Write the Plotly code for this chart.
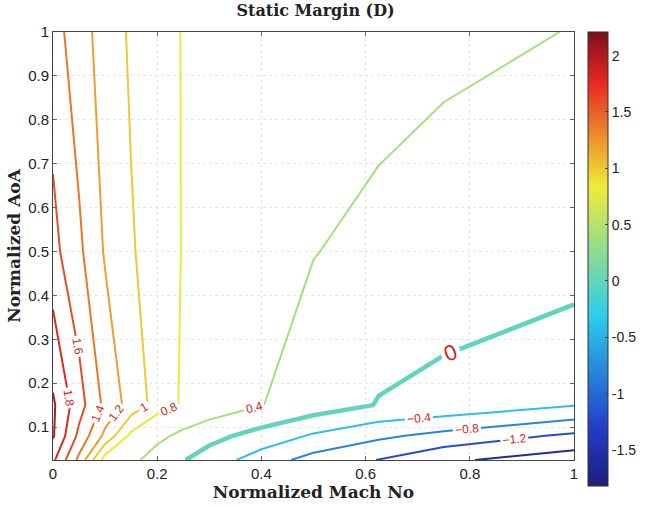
import plotly.graph_objects as go

# Grid (normalized Mach, normalized AoA) and static margin values
MACH = [0, 0.05, 0.1, 0.15, 0.2, 0.25, 0.3, 0.4, 0.5, 0.625, 0.75, 1.0]
AOA = [0.025, 0.08, 0.15, 0.5, 1.0]
SM_AOA_0025 = [1.84, 1.35, 0.70, 0.50, 0.22, 0.02, -0.18, -0.60, -0.95, -1.21, -1.53, -1.82]
SM_AOA_008 = [2.02, 1.55, 1.15, 0.75, 0.50, 0.30, 0.12, -0.15, -0.45, -0.72, -0.92, -1.28]
SM_AOA_015 = [2.03, 1.68, 1.35, 1.12, 0.93, 0.77, 0.65, 0.41, 0.22, -0.02, -0.11, -0.38]
SM_AOA_050 = [1.66, 1.44, 1.18, 1.02, 0.90, 0.79, 0.70, 0.55, 0.41, 0.31, 0.23, 0.20]
SM_AOA_100 = [1.49, 1.28, 1.12, 0.97, 0.88, 0.79, 0.75, 0.68, 0.61, 0.54, 0.48, 0.39]
Z = [SM_AOA_0025, SM_AOA_008, SM_AOA_015, SM_AOA_050, SM_AOA_100]

LEVELS = [-1.6, -1.2, -0.8, -0.4, 0.0, 0.4, 0.8, 1.0, 1.2, 1.4, 1.6, 1.8, 2.0]

CMIN, CMAX = -1.82, 2.21
XTICKS = [0, 0.2, 0.4, 0.6, 0.8, 1.0]
XTICKTEXT = ["0", "0.2", "0.4", "0.6", "0.8", "1"]
YTICKS = [0.1, 0.2, 0.3, 0.4, 0.5, 0.6, 0.7, 0.8, 0.9, 1.0]
YTICKTEXT = ["0.1", "0.2", "0.3", "0.4", "0.5", "0.6", "0.7", "0.8", "0.9", "1"]
CBTICKS = [-1.5, -1, -0.5, 0, 0.5, 1, 1.5, 2]
CBTICKTEXT = ["-1.5", "-1", "-0.5", "0", "0.5", "1", "1.5", "2"]

JET_PTS = [(0.0, (30, 30, 120)), (0.125, (35, 60, 200)), (0.375, (45, 205, 235)),
           (0.66, (240, 235, 55)), (0.89, (230, 40, 35)), (1.0, (125, 15, 25))]
JET = [[p, "rgb(%d,%d,%d)" % c] for p, c in JET_PTS]


def jet_color(v):
    t = (v - CMIN) / (CMAX - CMIN)
    t = min(max(t, 0.0), 1.0)
    for (p0, c0), (p1, c1) in zip(JET_PTS[:-1], JET_PTS[1:]):
        if p0 <= t <= p1:
            f = (t - p0) / (p1 - p0)
            c = [round(a + (b - a) * f) for a, b in zip(c0, c1)]
            return "rgb(%d,%d,%d)" % tuple(c)
    return "rgb(%d,%d,%d)" % JET_PTS[-1][1]


fig = go.Figure()

for lev in LEVELS:
    is_zero = abs(lev) < 1e-9
    fig.add_trace(go.Contour(
        x=MACH, y=AOA, z=Z,
        autocontour=False,
        contours=dict(start=lev, end=lev, size=1, coloring="none",
                      showlabels=True, labelformat="~g",
                      labelfont=dict(color="rgb(215,30,30)", size=22 if is_zero else 12,
                                     family="Liberation Sans")),
        line=dict(width=4.5 if is_zero else 2, color=jet_color(lev), smoothing=0),
        showscale=False, hoverinfo="skip",
    ))

# continuous colorbar
fig.add_trace(go.Scatter(
    x=[0.5], y=[-5], mode="markers", hoverinfo="skip", showlegend=False,
    marker=dict(color=[0], colorscale=JET, cmin=CMIN, cmax=CMAX, opacity=0, size=1,
                showscale=True,
                colorbar=dict(thickness=20, lenmode="pixels", len=454,
                              yanchor="top", y=1.0, xanchor="left", x=1.027,
                              xpad=0, ypad=0, outlinewidth=1, outlinecolor="#333",
                              tickvals=CBTICKS, ticktext=CBTICKTEXT,
                              ticks="inside", ticklen=3,
                              tickfont=dict(family="Liberation Sans", size=14, color="#222"))),
))

axis_common = dict(showline=True, linecolor="#444", linewidth=1, mirror="ticks",
                   ticks="inside", ticklen=4, tickcolor="#666",
                   showgrid=True, gridcolor="#e6e6e6", griddash="dot", gridwidth=1,
                   zeroline=False,
                   tickfont=dict(family="Liberation Sans", size=15, color="#222"))

fig.update_xaxes(range=[0, 1], tickvals=XTICKS, ticktext=XTICKTEXT,
                 title=dict(text="<b>Normalized Mach No</b>", standoff=1,
                            font=dict(family="DejaVu Serif", size=17, color="#222")),
                 **axis_common)
fig.update_yaxes(range=[0.025, 1], tickvals=YTICKS, ticktext=YTICKTEXT,
                 title=dict(text="<b>Normalized AoA</b>", standoff=3,
                            font=dict(family="DejaVu Serif", size=17, color="#222")),
                 **axis_common)

fig.update_layout(
    width=652, height=507,
    margin=dict(l=53, r=74, t=32, b=44),
    paper_bgcolor="white", plot_bgcolor="white",
    showlegend=False,
    title=dict(text="<b>Static Margin (D)</b>", x=0.484, xanchor="center", y=0.99, yanchor="top",
               font=dict(family="DejaVu Serif", size=16, color="#222")),
)

fig.write_html("out.html")
